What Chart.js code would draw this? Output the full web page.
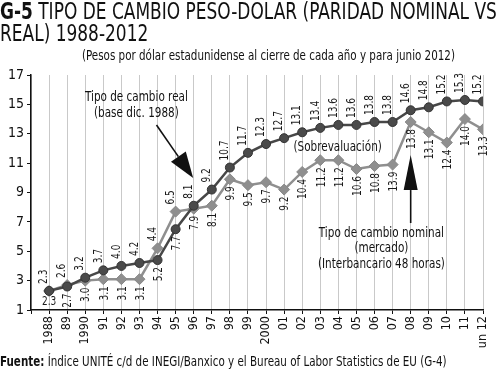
<!DOCTYPE html>
<html>
<head>
<meta charset="utf-8">
<script src="https://cdn.jsdelivr.net/npm/chart.js@4.4.1/dist/chart.umd.min.js"></script>
<style>
  html, body { margin: 0; padding: 0; background: #fff; }
  #wrap { position: relative; width: 500px; height: 369px; overflow: hidden; color: #111;
    font-family: 'Liberation Sans Narrow', 'DejaVu Sans Condensed', 'Roboto Condensed', 'Arial Narrow', sans-serif; }
  #chart { position: absolute; left: 0; top: 0; }
  .t { position: absolute; white-space: nowrap; transform-origin: 0 0; line-height: 1; }
</style>
</head>
<body>
<div id="wrap">
  <canvas id="chart" width="500" height="369"></canvas>
  <div class="t" id="t1" style="left:0;top:-0.5px;font-size:23px"><b>G-5</b> TIPO DE CAMBIO PESO-DOLAR (PARIDAD NOMINAL VS</div>
  <div class="t" id="t2" style="left:0;top:22px;font-size:23px">REAL) 1988-2012</div>
  <div class="t" id="sub" style="left:82px;top:49px;font-size:13.5px">(Pesos por dólar estadunidense al cierre de cada año y para junio 2012)</div>
  <div class="t" id="src" style="left:0;top:354px;font-size:14px"><b>Fuente:</b> Índice UNITÉ c/d de INEGI/Banxico y el Bureau of Labor Statistics de EU (G-4)</div>
</div>
<script>
  const FONT = "'Liberation Sans Narrow', 'DejaVu Sans Condensed', 'Roboto Condensed', 'Arial Narrow', sans-serif";
  const SQUEEZE = 0.8; // the original uses a condensed face

  // data (1988 .. junio 2012)
  const years = ["1988", "89", "1990", "91", "92", "93", "94", "95", "96", "97", "98", "99", "2000",
    "01", "02", "03", "04", "05", "06", "07", "08", "09", "10", "11", "un 12"];
  const realRate = [2.3, 2.6, 3.2, 3.7, 4.0, 4.2, 4.4, 6.5, 8.1, 9.2, 10.7, 11.7, 12.3,
    12.7, 13.1, 13.4, 13.6, 13.6, 13.8, 13.8, 14.6, 14.8, 15.2, 15.3, 15.2];
  const nominalRate = [2.3, 2.7, 3.0, 3.1, 3.1, 3.1, 5.2, 7.7, 7.9, 8.1, 9.9, 9.5, 9.7,
    9.2, 10.4, 11.2, 11.2, 10.6, 10.8, 10.9, 13.8, 13.1, 12.4, 14.0, 13.3];
  // printed labels (the 2007 nominal label reads 13.9 in the source)
  const realLabels = realRate.map(v => v.toFixed(1));
  const nominalLabels = ["2.3", "2.7", "3.0", "3.1", "3.1", "3.1", "5.2", "7.7", "7.9", "8.1", "9.9", "9.5", "9.7",
    "9.2", "10.4", "11.2", "11.2", "10.6", "10.8", "13.9", "13.8", "13.1", "12.4", "14.0", "13.3"];
  const yTicks = [1, 3, 5, 7, 9, 11, 13, 15, 17];

  // squeeze the html titles to the widths of the original
  function fitWidth(el, w) {
    const k = w / el.offsetWidth;
    el.style.transform = `scaleX(${k})`;
    return k;
  }
  const k1 = fitWidth(document.getElementById("t1"), 497);
  document.getElementById("t2").style.transform = `scaleX(${k1})`;
  fitWidth(document.getElementById("sub"), 373);
  fitWidth(document.getElementById("src"), 447);

  function narrowText(ctx, text, x, y, angle) {
    ctx.save();
    ctx.translate(x, y);
    if (angle) ctx.rotate(angle);
    ctx.scale(SQUEEZE, 1);
    ctx.fillText(text, 0, 0);
    ctx.restore();
  }

  function arrow(ctx, x0, y0, x1, y1, len, half) {
    const a = Math.atan2(y1 - y0, x1 - x0);
    const bx = x1 - len * Math.cos(a), by = y1 - len * Math.sin(a);
    ctx.lineWidth = 1.6;
    ctx.beginPath(); ctx.moveTo(x0, y0); ctx.lineTo(bx, by); ctx.stroke();
    ctx.beginPath();
    ctx.moveTo(x1, y1);
    ctx.lineTo(bx + half * Math.sin(a), by - half * Math.cos(a));
    ctx.lineTo(bx - half * Math.sin(a), by + half * Math.cos(a));
    ctx.closePath(); ctx.fill();
  }

  const pointLabels = {
    id: "pointLabels",
    afterDatasetsDraw(chart) {
      const ctx = chart.ctx;
      const real = chart.getDatasetMeta(0).data, nom = chart.getDatasetMeta(1).data;
      const bottomEdge = chart.chartArea.bottom;
      const up = -Math.PI / 2;
      ctx.save();
      ctx.font = "12.5px " + FONT;
      ctx.fillStyle = "#1a1a1a";
      ctx.textBaseline = "middle";
      real.forEach((p, i) => {
        const q = nom[i];
        const top = Math.min(p.y, q.y), bottom = Math.max(p.y, q.y);
        ctx.textAlign = "left";
        narrowText(ctx, realLabels[i], p.x - 5, top - 7, up);
        const w = ctx.measureText(nominalLabels[i]).width * SQUEEZE;
        if (bottom + 7 + w > bottomEdge) {
          ctx.textAlign = "center";
          narrowText(ctx, nominalLabels[i], q.x, bottom + 11);
        } else {
          ctx.textAlign = "right";
          narrowText(ctx, nominalLabels[i], q.x + 1, bottom + 7, up);
        }
      });
      ctx.restore();
    }
  };

  const notes = {
    id: "notes",
    afterDatasetsDraw(chart) {
      const { ctx, scales: { x, y } } = chart;
      const X = v => x.getPixelForValue(v), Y = v => y.getPixelForValue(v);
      ctx.save();
      ctx.font = "14.5px " + FONT;
      ctx.fillStyle = "#111";
      ctx.strokeStyle = "#111";
      ctx.textAlign = "center";
      ctx.textBaseline = "middle";
      narrowText(ctx, "Tipo de cambio real", X(4.83), Y(15.5));
      narrowText(ctx, "(base dic. 1988)", X(4.83), Y(14.4));
      narrowText(ctx, "(Sobrevaluación)", X(15.96), Y(12.1));
      narrowText(ctx, "Tipo de cambio nominal", X(18.38), Y(6.24));
      narrowText(ctx, "(mercado)", X(18.38), Y(5.22));
      narrowText(ctx, "(Interbancario 48 horas)", X(18.38), Y(4.13));
      arrow(ctx, X(5.94), Y(13.6), X(7.97), Y(9.99), 26, 9);
      arrow(ctx, X(20), Y(6.92), X(20), Y(11.55), 35, 7);
      ctx.restore();
    }
  };

  new Chart(document.getElementById("chart"), {
    type: "line",
    data: {
      datasets: [
        {
          label: "Tipo de cambio real",
          data: realRate.map((v, i) => ({ x: i, y: v })),
          borderColor: "#474747",
          backgroundColor: "#4a4a4a",
          borderWidth: 2.5,
          pointStyle: "circle",
          pointRadius: 4.5,
          pointBorderColor: "#333",
          pointBorderWidth: 1
        },
        {
          label: "Tipo de cambio nominal",
          data: nominalRate.map((v, i) => ({ x: i, y: v })),
          borderColor: "#8f8f8f",
          backgroundColor: "#8f8f8f",
          borderWidth: 2.5,
          pointStyle: "rectRot",
          pointRadius: 5.5,
          pointBorderColor: "#888",
          pointBorderWidth: 1
        }
      ]
    },
    options: {
      responsive: false,
      animation: false,
      layout: { padding: { top: 75, right: 15, bottom: 14, left: 0 } },
      plugins: { legend: { display: false }, tooltip: { enabled: false } },
      scales: {
        x: {
          type: "linear",
          min: -1,
          max: 24,
          afterFit: s => { s.height = 45; },
          ticks: {
            stepSize: 1,
            autoSkip: false,
            minRotation: 90,
            maxRotation: 90,
            padding: 2,
            color: "#111",
            font: { family: FONT, size: 12.5 },
            callback: v => years[v] || ""
          },
          grid: { color: "#c9c9c9", lineWidth: 1, tickColor: "#111", tickLength: 4 },
          border: { color: "#111", width: 1.5 }
        },
        y: {
          min: 1,
          max: 17,
          afterFit: s => { s.width = 31; },
          afterBuildTicks: s => { s.ticks = yTicks.map(v => ({ value: v })); },
          ticks: { padding: 3, color: "#111", font: { family: FONT, size: 14 } },
          grid: { drawOnChartArea: false, tickColor: "#111", tickLength: 4 },
          border: { color: "#111", width: 1.5 }
        }
      }
    },
    plugins: [pointLabels, notes]
  });
</script>
</body>
</html>
